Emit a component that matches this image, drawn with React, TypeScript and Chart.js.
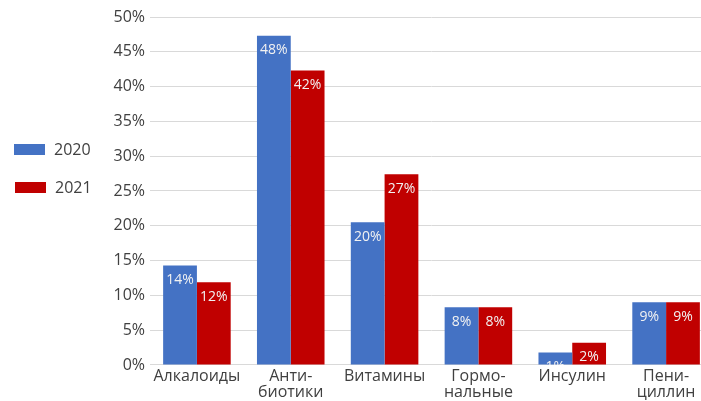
import React, { useEffect, useRef } from "react";
import { Chart, registerables } from "chart.js";

Chart.register(...registerables);

const categories: (string | string[])[] = [
  "Алкалоиды",
  ["Анти-", "биотики"],
  "Витамины",
  ["Гормо-", "нальные"],
  "Инсулин",
  ["Пени-", "циллин"],
];
const seriesNames = ["2020", "2021"];
const values2020 = [14.3, 47.3, 20.5, 8.3, 1.8, 9.0];
const values2021 = [11.9, 42.3, 27.4, 8.3, 3.2, 9.0];
const labels2020 = ["14%", "48%", "20%", "8%", "1%", "9%"];
const labels2021 = ["12%", "42%", "27%", "8%", "2%", "9%"];
const colors = ["#4472C4", "#C00000"];
const yTicks = [0, 5, 10, 15, 20, 25, 30, 35, 40, 45, 50];

const FONT = "'Open Sans', sans-serif";
const TEXT = "#404040";

const valueLabelPlugin = {
  id: "valueLabels",
  afterDatasetsDraw(chart: any) {
    const ctx = chart.ctx;
    const area = chart.chartArea;
    const all = [labels2020, labels2021];
    ctx.save();
    ctx.beginPath();
    ctx.rect(area.left, area.top, area.right - area.left, area.bottom - area.top);
    ctx.clip();
    ctx.font = `14px ${FONT}`;
    ctx.fillStyle = "#F2F2F2";
    ctx.textAlign = "center";
    ctx.textBaseline = "middle";
    chart.data.datasets.forEach((ds: any, di: number) => {
      const meta = chart.getDatasetMeta(di);
      meta.data.forEach((bar: any, i: number) => {
        ctx.fillText(all[di][i], bar.x, bar.y + 14.5);
      });
    });
    ctx.restore();
  },
};

export default function App() {
  const ref = useRef<HTMLCanvasElement | null>(null);
  useEffect(() => {
    if (!ref.current) return;
    const chart = new Chart(ref.current, {
      type: "bar",
      data: {
        labels: categories,
        datasets: [
          { label: seriesNames[0], data: values2020, backgroundColor: colors[0], categoryPercentage: 0.72, barPercentage: 1 },
          { label: seriesNames[1], data: values2021, backgroundColor: colors[1], categoryPercentage: 0.72, barPercentage: 1 },
        ],
      },
      options: {
        responsive: false,
        animation: false,
        layout: { padding: { top: 17, right: 7, left: 0, bottom: 0 } },
        plugins: { legend: { display: false }, tooltip: { enabled: false } },
        scales: {
          x: {
            grid: { display: false, drawTicks: false },
            border: { display: true, color: "#D9D9D9" },
            ticks: { color: TEXT, font: { family: FONT, size: 16, lineHeight: 0.97 }, padding: 4, maxRotation: 0, autoSkip: false },
          },
          y: {
            min: 0,
            max: 50,
            afterFit: (axis: any) => { axis.width = 150; },
            afterBuildTicks: (axis: any) => { axis.ticks = yTicks.map((v) => ({ value: v })); },
            grid: { color: "#D9D9D9", drawTicks: false },
            border: { display: false },
            ticks: { color: TEXT, font: { family: FONT, size: 16 }, padding: 5, callback: (v: any) => `${v}%` },
          },
        },
      },
      plugins: [valueLabelPlugin],
    });
    return () => chart.destroy();
  }, []);

  const legendItem = (i: number, top: number, left: number) => (
    <div key={i} style={{ position: "absolute", top, left, display: "flex", alignItems: "center", fontFamily: FONT, fontSize: 16, color: TEXT }}>
      <span style={{ display: "inline-block", width: 31, height: 11, background: colors[i], marginRight: 9 }} />
      <span style={{ lineHeight: "18px" }}>{seriesNames[i]}</span>
    </div>
  );

  return (
    <div style={{ position: "fixed", left: 0, top: 0, width: 701, height: 401, overflow: "hidden", background: "#fff" }}>
      <canvas ref={ref} width={720} height={404} style={{ position: "absolute", left: 0, top: 0 }} />
      {legendItem(0, 140, 14)}
      {legendItem(1, 178, 15)}
    </div>
  );
}
